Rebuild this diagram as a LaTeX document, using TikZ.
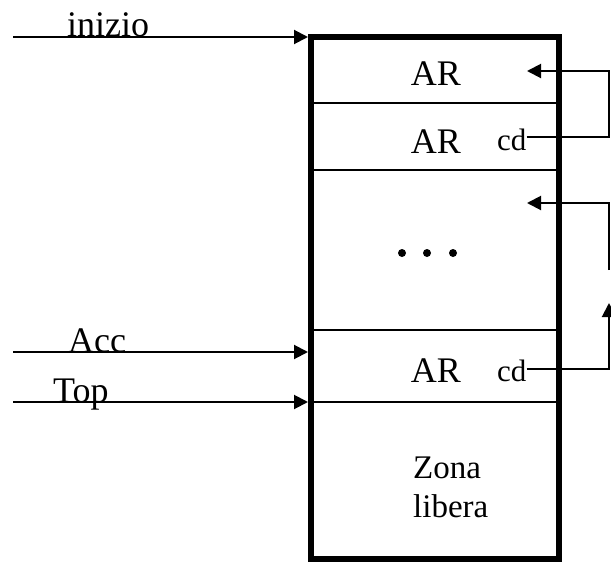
\documentclass[tikz,border=0pt]{standalone}
\usepackage{fontspec}
\setmainfont{Liberation Serif}
\usetikzlibrary{arrows.meta}
\begin{document}
\begin{tikzpicture}[x=1pt,y=-1pt,
  conn/.style={line width=2pt},
  arr/.style={conn,-{Triangle[length=14pt,width=14pt]}},
  sep/.style={line width=2pt},
  big/.style={font=\fontsize{36}{40}\selectfont,inner sep=0pt},
  small/.style={font=\fontsize{31}{34}\selectfont,inner sep=0pt},
  zona/.style={font=\fontsize{33}{38.5}\selectfont,inner sep=0pt,align=left}]
\useasboundingbox (0,0) rectangle (611,562);
% stack box
\draw[line width=6pt] (311,37) rectangle (559,559);
\foreach \y in {103,170,330,402} \draw[sep] (311,\y) -- (559,\y);
% left pointers
\coordinate (i0) at (13,37);  \coordinate (i1) at (308,37);
\coordinate (a0) at (13,352); \coordinate (a1) at (308,352);
\coordinate (t0) at (13,402); \coordinate (t1) at (308,402);
\draw[arr] (i0) -- (i1);
\draw[arr] (a0) -- (a1);
\draw[arr] (t0) -- (t1);
\node[big,anchor=base west] (inizio) at (67,36) {inizio};
\node[big,anchor=base west] (acc) at (68,352) {Acc};
\node[big,anchor=base west] (top) at (53,402) {Top};
% records
\node[big,anchor=base] (ar1) at (436,85) {AR};
\node[big,anchor=base] (ar2) at (436,153) {AR};
\node[big,anchor=base] (ar3) at (436,382) {AR};
\node[small,anchor=base west] (cd2) at (497,150) {cd};
\node[small,anchor=base west] (cd3) at (497,381) {cd};
\foreach \x in {402,427,453} \fill (\x,253) circle (4pt);
% control links
\coordinate (r1) at (609,137);
\coordinate (r2) at (609,71);
\coordinate (p1) at (527,71);
\draw[arr] (cd2.east |- r1) -- (r1) -- (r2) -- (p1);
\coordinate (q0) at (609,270);
\coordinate (q1) at (609,203);
\coordinate (p2) at (527,203);
\draw[arr] (q0) -- (q1) -- (p2);
\coordinate (s1) at (609,369);
\coordinate (s2) at (609,303);
\draw[arr] (cd3.east |- s1) -- (s1) -- (s2);
% free zone
\node[zona,anchor=base west] (zona) at (413,517) {Zona\\libera};
\end{tikzpicture}
\end{document}
